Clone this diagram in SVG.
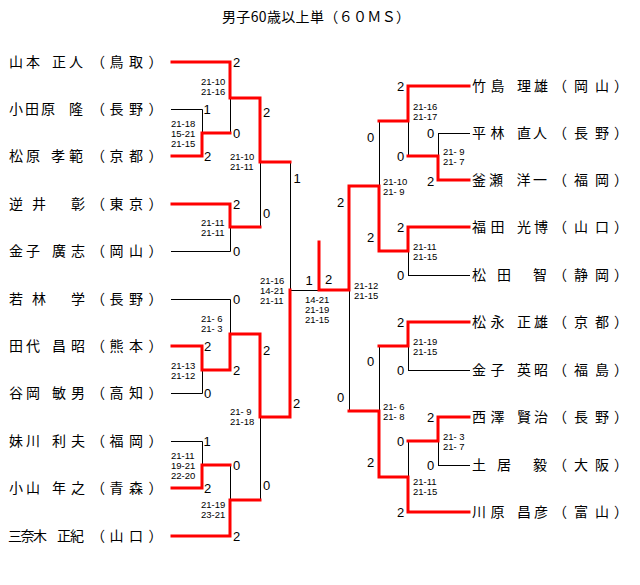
<svg xmlns="http://www.w3.org/2000/svg" width="640" height="585" viewBox="0 0 640 585">
<style>
.nm{font-family:"Noto Sans CJK JP","Noto Sans CJK SC",sans-serif;font-size:14px;fill:#000}
.sc{font-family:"Liberation Sans",Arial,sans-serif;font-size:13px;fill:#000}
.sm{font-family:"Liberation Sans",Arial,sans-serif;font-size:9.5px;fill:#000}
.bk{fill:none;stroke:#000;stroke-width:1}
.rd{fill:none;stroke:#f00;stroke-width:3;stroke-linejoin:miter;stroke-linecap:square}
</style>
<rect width="640" height="585" fill="#fff"/>
<text class="nm" x="222" y="22" textLength="188" lengthAdjust="spacing">男子60歳以上単（６０ＭＳ）</text>

<g id="connectors">
<path class="bk" d="M171,109.5H202.5V133 M171,393.5H202.5V370 M171,441.5H202.5V465 M171,299.5H230.5V334 M171,251.5H230.5V227 M230.5,98V133 M230.5,465V500 M260.5,162V227 M260.5,417V500 M290.5,162V290 M290,290.5H319"/>
<path class="bk" d="M349.5,290V411 M379.5,121V186 M379.5,346V411 M408.5,121V156 M408.5,251V275 M408.5,346V370 M408.5,441V477 M438.5,133V156 M438.5,441V465 M408,275.5H470 M438,133.5H470 M408,370.5H470 M438,465.5H470"/>
<path class="rd" d="M172,62H230V98H260V162H290"/>
<path class="rd" d="M172,156H202V133H230"/>
<path class="rd" d="M172,204H230V227H260"/>
<path class="rd" d="M172,346H202V370H230V334H260V417H290V290"/>
<path class="rd" d="M172,488H202V465H230"/>
<path class="rd" d="M172,536H230V500H260"/>
<path class="rd" d="M319,242V290H349V186H379V251H408V227H469"/>
<path class="rd" d="M469,86H408V121H379"/>
<path class="rd" d="M469,180H438V156H408"/>
<path class="rd" d="M469,322H408V346H379"/>
<path class="rd" d="M469,417H438V441H408"/>
<path class="rd" d="M469,512H408V477H379V411H349"/>
</g>

<g id="L1"><text class="nm" x="9 26 39 52 69" y="67">山本 正人</text><text class="nm" x="91 109.5 129 148.5" y="67">（鳥取）</text></g>
<g id="L2"><text class="nm" x="9 25 41 55 69" y="114">小田原 隆</text><text class="nm" x="91 109.5 129 148.5" y="114">（長野）</text></g>
<g id="L3"><text class="nm" x="9 26 39 51 69" y="161">松原 孝範</text><text class="nm" x="91 109.5 129 148.5" y="161">（京都）</text></g>
<g id="L4"><text class="nm" x="9 32 50 71" y="209">逆井 彰</text><text class="nm" x="91 109.5 129 148.5" y="209">（東京）</text></g>
<g id="L5"><text class="nm" x="9 26 39 52 71" y="256">金子 廣志</text><text class="nm" x="91 109.5 129 148.5" y="256">（岡山）</text></g>
<g id="L6"><text class="nm" x="9 32 50 71" y="304">若林 学</text><text class="nm" x="91 109.5 129 148.5" y="304">（長野）</text></g>
<g id="L7"><text class="nm" x="9 26 39 52 71" y="351">田代 昌昭</text><text class="nm" x="91 109.5 129 148.5" y="351">（熊本）</text></g>
<g id="L8"><text class="nm" x="9 26 39 52 71" y="398">谷岡 敏男</text><text class="nm" x="91 109.5 129 148.5" y="398">（高知）</text></g>
<g id="L9"><text class="nm" x="9 26 39 52 71" y="446">妹川 利夫</text><text class="nm" x="91 109.5 129 148.5" y="446">（福岡）</text></g>
<g id="L10"><text class="nm" x="9 26 39 52 71" y="493">小山 年之</text><text class="nm" x="91 109.5 129 148.5" y="493">（青森）</text></g>
<g id="L11"><text class="nm" x="8 20.5 33 46 57 70" y="541">三奈木 正紀</text><text class="nm" x="91 109.5 129 148.5" y="541">（山口）</text></g>

<g id="R1"><text class="nm" x="472 490.5 504 517 534" y="91">竹島 理雄</text><text class="nm" x="553 574 595 614" y="91">（岡山）</text></g>
<g id="R2"><text class="nm" x="472 490.5 504 517 533" y="138">平林 直人</text><text class="nm" x="553 574 595 614" y="138">（長野）</text></g>
<g id="R3"><text class="nm" x="472 489 504 516.5 533" y="185">釜瀬 洋一</text><text class="nm" x="553 574 595 614" y="185">（福岡）</text></g>
<g id="R4"><text class="nm" x="472 490.5 504 517 534" y="232">福田 光博</text><text class="nm" x="553 574 595 614" y="232">（山口）</text></g>
<g id="R5"><text class="nm" x="472 497 515 533" y="280">松田 智</text><text class="nm" x="553 574 595 614" y="280">（静岡）</text></g>
<g id="R6"><text class="nm" x="472 490.5 504 517 534" y="327">松永 正雄</text><text class="nm" x="553 574 595 614" y="327">（京都）</text></g>
<g id="R7"><text class="nm" x="472 490.5 504 517 534" y="375">金子 英昭</text><text class="nm" x="553 574 595 614" y="375">（福島）</text></g>
<g id="R8"><text class="nm" x="472 490.5 504 517 534" y="422">西澤 賢治</text><text class="nm" x="553 574 595 614" y="422">（長野）</text></g>
<g id="R9"><text class="nm" x="472 497 515 533" y="470">土居 毅</text><text class="nm" x="553 574 595 614" y="470">（大阪）</text></g>
<g id="R10"><text class="nm" x="472 490.5 504 517 534" y="517">川原 昌彦</text><text class="nm" x="553 574 595 614" y="517">（富山）</text></g>

<g id="scores">
<text class="sc" x="233" y="66.7">2</text>
<text class="sc" x="203.5" y="113.7">1</text>
<text class="sc" x="204" y="160.7">2</text>
<text class="sc" x="233" y="137.7">0</text>
<text class="sc" x="263" y="116.7">2</text>
<text class="sc" x="293.5" y="182.7">1</text>
<text class="sc" x="233" y="208.7">2</text>
<text class="sc" x="263" y="217.7">0</text>
<text class="sc" x="233" y="255.7">0</text>
<text class="sc" x="305.5" y="284.7">1</text>
<text class="sc" x="233" y="303.7">0</text>
<text class="sc" x="204" y="350.7">2</text>
<text class="sc" x="233" y="374.7">2</text>
<text class="sc" x="263" y="354.7">2</text>
<text class="sc" x="204" y="397.7">0</text>
<text class="sc" x="293" y="407.7">2</text>
<text class="sc" x="203.5" y="445.7">1</text>
<text class="sc" x="233" y="469.7">0</text>
<text class="sc" x="204" y="492.7">2</text>
<text class="sc" x="263" y="489.7">0</text>
<text class="sc" x="233" y="540.7">2</text>
<text class="sc" x="325" y="283.7">2</text>
<text class="sc" x="337" y="206.7">2</text>
<text class="sc" x="337" y="401.7">0</text>
<text class="sc" x="367" y="141.7">0</text>
<text class="sc" x="367" y="241.7">2</text>
<text class="sc" x="397" y="90.7">2</text>
<text class="sc" x="397" y="160.7">0</text>
<text class="sc" x="427" y="137.7">0</text>
<text class="sc" x="427" y="185.7">2</text>
<text class="sc" x="397" y="231.7">2</text>
<text class="sc" x="397" y="279.7">0</text>
<text class="sc" x="367" y="365.7">0</text>
<text class="sc" x="367" y="466.7">2</text>
<text class="sc" x="397" y="326.7">2</text>
<text class="sc" x="397" y="374.7">0</text>
<text class="sc" x="427" y="421.7">2</text>
<text class="sc" x="427" y="469.7">0</text>
<text class="sc" x="397" y="445.7">0</text>
<text class="sc" x="397" y="516.7">2</text>
</g>

<g id="games">
<text class="sm" y="127.4"><tspan x="171">21-18</tspan><tspan x="171" dy="10">15-21</tspan><tspan x="171" dy="10">21-15</tspan></text>
<text class="sm" y="85.4"><tspan x="201">21-10</tspan><tspan x="201" dy="10">21-16</tspan></text>
<text class="sm" y="160.4"><tspan x="230">21-10</tspan><tspan x="230" dy="10">21-11</tspan></text>
<text class="sm" y="226.4"><tspan x="201">21-11</tspan><tspan x="201" dy="10">21-11</tspan></text>
<text class="sm" y="284.4"><tspan x="260">21-16</tspan><tspan x="260" dy="10">14-21</tspan><tspan x="260" dy="10">21-11</tspan></text>
<text class="sm" y="322.4"><tspan x="201">21- 6</tspan><tspan x="201" dy="10">21- 3</tspan></text>
<text class="sm" y="369.4"><tspan x="171">21-13</tspan><tspan x="171" dy="10">21-12</tspan></text>
<text class="sm" y="415.4"><tspan x="230">21- 9</tspan><tspan x="230" dy="10">21-18</tspan></text>
<text class="sm" y="459.4"><tspan x="171">21-11</tspan><tspan x="171" dy="9.7">19-21</tspan><tspan x="171" dy="9.7">22-20</tspan></text>
<text class="sm" y="508.4"><tspan x="201">21-19</tspan><tspan x="201" dy="10">23-21</tspan></text>
<text class="sm" y="303.4"><tspan x="305">14-21</tspan><tspan x="305" dy="10">21-19</tspan><tspan x="305" dy="10">21-15</tspan></text>
<text class="sm" y="289.4"><tspan x="354">21-12</tspan><tspan x="354" dy="10">21-15</tspan></text>
<text class="sm" y="185.4"><tspan x="383">21-10</tspan><tspan x="383" dy="10">21- 9</tspan></text>
<text class="sm" y="110.4"><tspan x="413">21-16</tspan><tspan x="413" dy="10">21-17</tspan></text>
<text class="sm" y="155.4"><tspan x="443">21- 9</tspan><tspan x="443" dy="10">21- 7</tspan></text>
<text class="sm" y="250.4"><tspan x="413">21-11</tspan><tspan x="413" dy="10">21-15</tspan></text>
<text class="sm" y="345.4"><tspan x="413">21-19</tspan><tspan x="413" dy="10">21-15</tspan></text>
<text class="sm" y="410.4"><tspan x="383">21- 6</tspan><tspan x="383" dy="10">21- 8</tspan></text>
<text class="sm" y="440.4"><tspan x="443">21- 3</tspan><tspan x="443" dy="10">21- 7</tspan></text>
<text class="sm" y="485.4"><tspan x="413">21-11</tspan><tspan x="413" dy="10">21-15</tspan></text>
</g>
</svg>
